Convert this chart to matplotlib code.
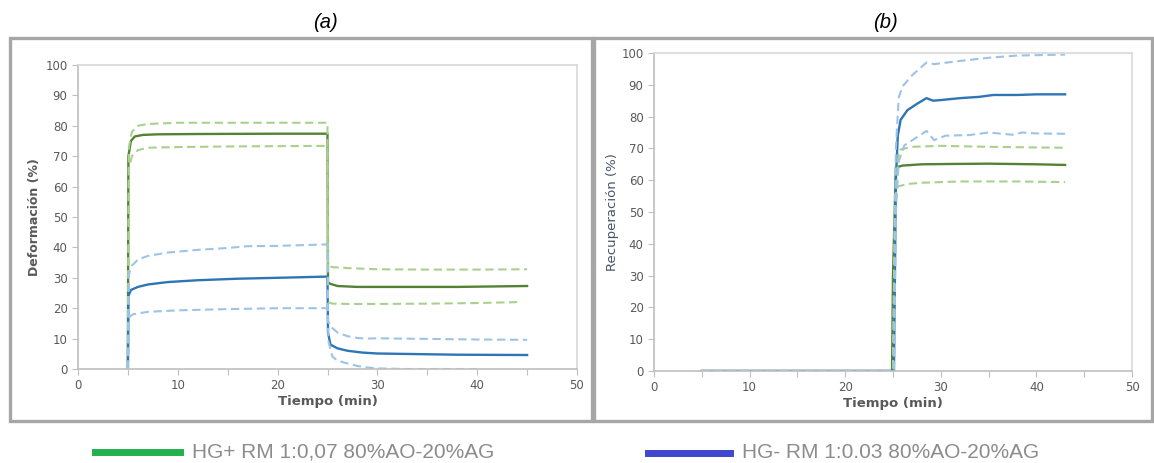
import matplotlib
matplotlib.use('Agg')
from matplotlib import pyplot as plt
from matplotlib.patches import Rectangle
from matplotlib.lines import Line2D

# ---- data ----
# (a) Deformacion
a_green_t = [5, 5.05, 5.3, 5.7, 6.5, 8, 12, 20, 25, 25.05, 25.3, 26, 28, 32, 38, 45]
a_green = [0, 70, 75, 76.5, 77, 77.2, 77.3, 77.4, 77.4, 28.5, 28, 27.3, 27, 27, 27, 27.3]
a_green_up_t = [5, 5.1, 5.4, 6, 7, 10, 15, 20, 25, 25.05, 25.5, 27, 30, 35, 40, 45]
a_green_up = [0, 73, 78, 80, 80.6, 81, 81, 81, 81, 34, 33.5, 33.2, 32.8, 32.7, 32.7, 32.8]
a_green_lo_t = [5, 5.1, 5.4, 6, 7, 10, 15, 20, 25, 25.05, 25.5, 27, 30, 35, 40, 44]
a_green_lo = [0, 66, 70, 72, 72.8, 73, 73.2, 73.3, 73.4, 22, 21.5, 21.4, 21.4, 21.5, 21.7, 22]

a_blue_t = [5, 5.05, 5.3, 6, 7, 9, 12, 16, 20, 25, 25.05, 25.3, 26, 27, 28.5, 30, 34, 38, 45]
a_blue = [0, 24, 26, 27, 27.8, 28.6, 29.2, 29.7, 30, 30.4, 12, 8, 6.8, 6, 5.4, 5.1, 4.9, 4.7, 4.6]
a_blue_up_t = [5, 5.1, 5.4, 6, 7, 9, 12, 15, 17, 20, 25, 25.05, 25.3, 26, 27, 28, 29, 30, 35, 40, 45]
a_blue_up = [0, 31, 34, 36, 37.2, 38.3, 39.2, 39.8, 40.4, 40.5, 41, 16, 14, 12, 10.8, 10.2, 10, 10.1, 9.9, 9.7, 9.6]
a_blue_lo_t = [5, 5.1, 5.5, 7, 10, 15, 20, 25, 25.1, 25.5, 26, 27, 28, 29, 30, 33, 40]
a_blue_lo = [0, 17, 18, 18.8, 19.3, 19.7, 20, 20, 9, 4, 2.8, 1.8, 1, 0.5, 0.2, 0, 0]

# (b) Recuperacion
b_green_t = [5, 24.9, 25, 25.3, 26, 28, 31, 35, 40, 43]
b_green = [0, 0, 30, 64, 64.6, 65, 65.1, 65.2, 65, 64.8]
b_green_up_t = [5, 25, 25.2, 25.6, 27, 30, 35, 40, 43]
b_green_up = [0, 0, 50, 69.5, 70.5, 70.8, 70.5, 70.3, 70.2]
b_green_lo_t = [5, 25, 25.2, 25.5, 26.5, 28, 32, 38, 43]
b_green_lo = [0, 0, 55, 58, 58.8, 59.2, 59.6, 59.6, 59.4]

b_blue_t = [5, 25.1, 25.3, 25.5, 25.8, 26.5, 27.5, 28.5, 29.2, 30, 32, 34, 35.5, 38, 40, 43]
b_blue = [0, 0, 60, 74, 79, 82, 84, 85.8, 85, 85.2, 85.8, 86.2, 86.8, 86.8, 87, 87]
b_blue_up_t = [5, 25.1, 25.3, 25.6, 26, 27, 28.5, 29.3, 32, 35, 38, 43]
b_blue_up = [0, 0, 70, 86, 89.5, 93, 97, 96.5, 97.5, 98.5, 99.2, 99.5]
b_blue_lo_t = [5, 25.1, 25.3, 25.6, 26.2, 27.5, 28.5, 29.3, 30.5, 33, 35, 37.5, 38.5, 40, 43]
b_blue_lo = [0, 0, 50, 66, 71, 73.5, 75.5, 72.6, 74, 74.2, 75, 74.3, 75, 74.7, 74.6]

legend_labels = ['HG+ RM 1:0,07 80%AO-20%AG', 'HG- RM 1:0.03 80%AO-20%AG']

DK_GREEN = '#548235'
LT_GREEN = '#a9d18e'
DK_BLUE = '#2e75b6'
LT_BLUE = '#9dc3e6'
TXT = '#595959'

fig = plt.figure(figsize=(11.54, 4.63), dpi=100)
W, H = 1154, 463


def px_box(x0, y0, x1, y1):
    # pixel box (top-left origin) -> figure fraction rect
    return [x0 / W, 1 - y1 / H, (x1 - x0) / W, (y1 - y0) / H]


# grey panel frames
for (x0, y0, x1, y1) in [(10, 38, 592, 421), (594, 38, 1152, 421)]:
    r = px_box(x0, y0, x1, y1)
    fig.patches.append(Rectangle((r[0], r[1]), r[2], r[3], transform=fig.transFigure,
                                 fill=False, edgecolor='#a6a6a6', lw=2.4, zorder=0))

ax1 = fig.add_axes(px_box(78, 65, 577, 369))
ax2 = fig.add_axes(px_box(654, 53, 1132, 371))


def draw(ax, series):
    for t, y, c, ls in series:
        if ls == '-':
            ax.plot(t, y, color=c, lw=1.7, solid_joinstyle='round')
        else:
            ax.plot(t, y, color=c, lw=1.5, dashes=(4, 2.2))


draw(ax1, [
    (a_green_t, a_green, DK_GREEN, '-'),
    (a_blue_t, a_blue, DK_BLUE, '-'),
    (a_green_up_t, a_green_up, LT_GREEN, '--'),
    (a_green_lo_t, a_green_lo, LT_GREEN, '--'),
    (a_blue_up_t, a_blue_up, LT_BLUE, '--'),
    (a_blue_lo_t, a_blue_lo, LT_BLUE, '--'),
])
draw(ax2, [
    (b_green_t, b_green, DK_GREEN, '-'),
    (b_blue_t, b_blue, DK_BLUE, '-'),
    (b_green_up_t, b_green_up, LT_GREEN, '--'),
    (b_green_lo_t, b_green_lo, LT_GREEN, '--'),
    (b_blue_up_t, b_blue_up, LT_BLUE, '--'),
    (b_blue_lo_t, b_blue_lo, LT_BLUE, '--'),
])

for ax in (ax1, ax2):
    ax.set_xlim(0, 50)
    ax.set_ylim(0, 100)
    ax.set_xticks(range(0, 51, 10))
    ax.set_xticks(range(5, 50, 10), minor=True)
    ax.set_yticks(range(0, 101, 10))
    for s in ax.spines.values():
        s.set_color('#d9d9d9')
        s.set_linewidth(1.2)
    ax.spines['bottom'].set_color('#bfbfbf')
    ax.spines['left'].set_color('#bfbfbf')
    ax.tick_params(which='both', direction='out', length=4, width=0.8, color='#bfbfbf',
                   labelsize=8.5, labelcolor=TXT, top=False, right=False)
    ax.set_xlabel('Tiempo (min)', fontsize=9.5, fontweight='bold', color=TXT, labelpad=2)

ax1.set_ylabel('Deformación (%)', fontsize=9, fontweight='bold', color=TXT, labelpad=3)
ax2.set_ylabel('Recuperación (%)', fontsize=9.5, color='#44546a', labelpad=2)

fig.text(325 / W, 1 - 22 / H, '(a)', fontsize=14.5, style='italic', family='Liberation Sans',
         ha='center', va='center')
fig.text(885 / W, 1 - 22 / H, '(b)', fontsize=14.5, style='italic', family='Liberation Sans',
         ha='center', va='center')

# legend along the bottom
fig.lines.append(Line2D([95 / W, 180 / W], [1 - 452 / H] * 2, transform=fig.transFigure,
                        color='#22b14c', lw=5))
fig.lines.append(Line2D([648 / W, 730 / W], [1 - 453 / H] * 2, transform=fig.transFigure,
                        color='#3f48cc', lw=5))
fig.text(192 / W, 1 - 452 / H, legend_labels[0], fontsize=15, color='#8c8c8c',
         family='Liberation Sans', va='center')
fig.text(742 / W, 1 - 453 / H, legend_labels[1], fontsize=15, color='#8c8c8c',
         family='Liberation Sans', va='center')

fig.savefig('out.png', dpi=100, facecolor='white')
